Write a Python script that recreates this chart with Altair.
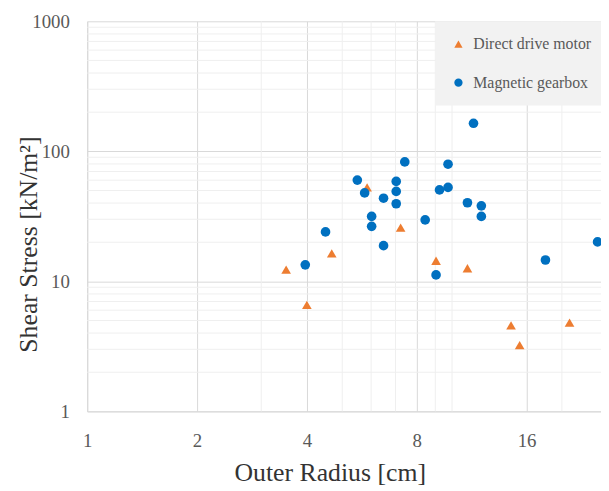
import altair as alt
import pandas as pd

series = ["Direct drive motor", "Magnetic gearbox"]
colors = ["#ED7D31", "#0070C0"]
shapes = ["triangle-up", "circle"]

dd_radius = [3.51, 4.00, 4.68, 5.85, 7.23, 9.04, 11.02, 14.51, 15.32, 20.99]
dd_stress = [12.3, 6.6, 16.4, 52.8, 25.9, 14.4, 12.6, 4.59, 3.23, 4.81]

mg_radius = [3.96, 4.50, 5.50, 5.76, 6.02, 6.02, 6.49, 6.49, 7.03, 7.03, 7.03, 7.42,
             8.44, 9.04, 9.24, 9.75, 9.75, 11.02, 11.45, 12.03, 12.03, 18.03, 25.05]
mg_stress = [13.4, 24.0, 60.1, 47.9, 31.6, 26.5, 43.6, 18.8, 58.7, 49.2, 39.5, 82.9,
             29.7, 11.2, 50.5, 52.8, 79.6, 40.2, 164.3, 38.1, 31.6, 14.6, 20.1]

x_ticks = [1, 2, 4, 8, 16]
y_ticks = [1, 10, 100, 1000]
x_minor = [3, 5, 6, 7, 9, 10, 20]
y_minor = [2, 3, 4, 5, 6, 7, 8, 9, 20, 30, 40, 50, 60, 70, 80, 90,
           200, 300, 400, 500, 600, 700, 800, 900]

df = pd.DataFrame({
    "series": [series[0]] * len(dd_radius) + [series[1]] * len(mg_radius),
    "radius": dd_radius + mg_radius,
    "stress": dd_stress + mg_stress,
})

FONT = "Liberation Serif"
xscale = alt.Scale(type="log", base=2, domain=[1, 25.6], nice=False)
yscale = alt.Scale(type="log", base=10, domain=[1, 1000], nice=False)

xaxis = alt.Axis(
    values=x_ticks, format="d", title="Outer Radius [cm]",
    grid=True, gridColor="#d9d9d9", domainColor="#d9d9d9",
    ticks=False, tickSize=0, labelPadding=21, labelFlush=False,
    labelFont=FONT, labelFontSize=19, labelColor="#595959",
    titleFont=FONT, titleFontSize=26, titleFontWeight="normal", titleColor="#333333",
    titleX=245, titleY=62, titleBaseline="middle", titleAlign="center",
)
yaxis = alt.Axis(
    values=y_ticks, format="d", title="Shear Stress [kN/m²]",
    grid=True, gridColor="#d9d9d9", domainColor="#d9d9d9",
    ticks=False, tickSize=0, labelPadding=18, labelFlush=False,
    labelFont=FONT, labelFontSize=19, labelColor="#595959",
    titleFont=FONT, titleFontSize=26, titleFontWeight="normal", titleColor="#333333",
    titleX=-59, titleY=225, titleAngle=270, titleBaseline="middle", titleAlign="center",
)

vgrid = alt.Chart(pd.DataFrame({"radius": x_minor})).mark_rule(
    color="#efefef", strokeWidth=1
).encode(x=alt.X("radius:Q", scale=xscale, axis=xaxis))

hgrid = alt.Chart(pd.DataFrame({"stress": y_minor})).mark_rule(
    color="#efefef", strokeWidth=1
).encode(y=alt.Y("stress:Q", scale=yscale, axis=yaxis))

legend = alt.Legend(
    title=None, orient="none", legendX=352, legendY=0,
    fillColor="#f2f2f2", padding=15, rowPadding=23,
    labelFont=FONT, labelFontSize=16, labelColor="#595959", labelOffset=7,
    symbolSize=70, symbolStrokeWidth=0, symbolOpacity=1,
)

points = alt.Chart(df).mark_point(filled=True, size=95, opacity=1).encode(
    x=alt.X("radius:Q", scale=xscale, axis=xaxis),
    y=alt.Y("stress:Q", scale=yscale, axis=yaxis),
    color=alt.Color("series:N", scale=alt.Scale(domain=series, range=colors), legend=legend),
    shape=alt.Shape("series:N", scale=alt.Scale(domain=series, range=shapes), legend=legend),
)

chart = alt.layer(vgrid, hgrid, points).properties(
    width=519, height=394,
    padding={"left": 80, "top": 11, "right": 0, "bottom": 78},
    autosize="none",
).configure_view(stroke=None).configure_legend(
    labelFont=FONT, labelFontSize=16, labelColor="#595959"
)

chart.save("out.html", embed_options={"renderer": "svg", "actions": False})
